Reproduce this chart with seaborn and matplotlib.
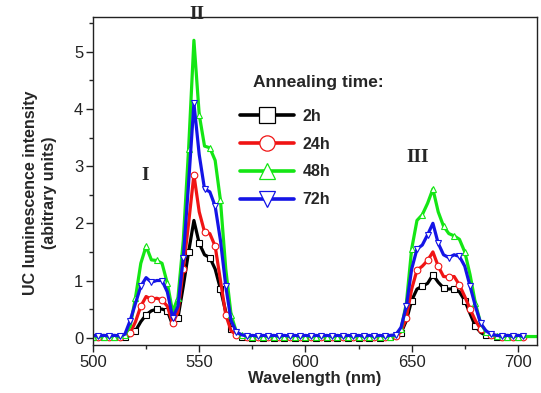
import numpy as np
import pandas as pd
import matplotlib
matplotlib.use("Agg")
import matplotlib.pyplot as plt
import seaborn as sns
from matplotlib.ticker import MultipleLocator
from matplotlib.lines import Line2D

# Wavelength grid (nm), 2.5 nm sampling
wavelength = np.arange(500, 712.5, 2.5)

nan = np.nan

# UC emission spectra for each annealing time (arbitrary units)
spec_2h = [
    0.01, 0.00, 0.01, 0.00, 0.01, 0.00, 0.01, 0.04, 0.12, 0.28,
    0.40, 0.47, 0.50, 0.50, 0.47, 0.22, 0.35, 0.90, 1.50, 2.05,
    1.65, 1.45, 1.40, 1.20, 0.85, 0.45, 0.15, 0.05, 0.02, 0.01,
    0.00, 0.01, 0.00, 0.01, 0.00, 0.01, 0.00, 0.01, 0.00, 0.01,
    0.00, 0.01, 0.00, 0.01, 0.00, 0.01, 0.00, 0.01, 0.00, 0.01,
    0.00, 0.01, 0.00, 0.01, 0.00, 0.01, 0.01, 0.02, 0.08, 0.30,
    0.65, 0.85, 0.90, 0.95, 1.10, 0.97, 0.87, 0.85, 0.86, 0.80,
    0.65, 0.42, 0.20, 0.09, 0.04, 0.02, 0.01, 0.00, 0.01, 0.00,
    0.01, 0.00, nan, nan, nan,
]
spec_24h = [
    0.02, 0.01, 0.02, 0.01, 0.02, 0.01, 0.02, 0.08, 0.28, 0.55,
    0.72, 0.67, 0.69, 0.66, 0.55, 0.25, 0.45, 1.20, 2.00, 2.85,
    2.20, 1.85, 1.82, 1.60, 1.00, 0.40, 0.12, 0.05, 0.03, 0.02,
    0.01, 0.02, 0.01, 0.02, 0.01, 0.02, 0.01, 0.02, 0.01, 0.02,
    0.01, 0.02, 0.01, 0.02, 0.01, 0.02, 0.01, 0.02, 0.01, 0.02,
    0.01, 0.02, 0.01, 0.02, 0.01, 0.02, 0.02, 0.03, 0.10, 0.35,
    0.85, 1.18, 1.25, 1.35, 1.50, 1.25, 1.07, 1.06, 1.07, 0.92,
    0.72, 0.50, 0.30, 0.15, 0.07, 0.04, 0.02, 0.01, 0.02, 0.01,
    0.02, 0.01, nan, nan, nan,
]
spec_48h = [
    0.02, 0.01, 0.02, 0.01, 0.02, 0.01, 0.05, 0.20, 0.70, 1.30,
    1.60, 1.36, 1.35, 1.30, 0.95, 0.45, 0.70, 1.70, 3.30, 5.20,
    3.90, 3.35, 3.32, 3.10, 2.40, 1.20, 0.40, 0.10, 0.04, 0.02,
    0.01, 0.02, 0.01, 0.02, 0.01, 0.02, 0.01, 0.02, 0.01, 0.02,
    0.01, 0.02, 0.01, 0.02, 0.01, 0.02, 0.01, 0.02, 0.01, 0.02,
    0.01, 0.02, 0.01, 0.02, 0.01, 0.02, 0.02, 0.03, 0.15, 0.60,
    1.55, 2.05, 2.15, 2.35, 2.60, 2.20, 1.95, 1.82, 1.78, 1.72,
    1.50, 1.10, 0.60, 0.25, 0.10, 0.05, 0.03, 0.02, 0.02, 0.02,
    0.02, 0.02, 0.02, 0.02, 0.02,
]
spec_72h = [
    0.04, 0.03, 0.04, 0.03, 0.04, 0.03, 0.06, 0.30, 0.60, 0.90,
    1.05, 0.97, 1.00, 1.00, 0.80, 0.35, 0.55, 1.40, 2.70, 4.10,
    3.20, 2.60, 2.55, 2.30, 1.70, 0.90, 0.30, 0.10, 0.05, 0.03,
    0.04, 0.03, 0.04, 0.03, 0.04, 0.03, 0.04, 0.03, 0.04, 0.03,
    0.04, 0.03, 0.04, 0.03, 0.04, 0.03, 0.04, 0.03, 0.04, 0.03,
    0.04, 0.03, 0.04, 0.03, 0.04, 0.03, 0.04, 0.05, 0.18, 0.55,
    1.20, 1.55, 1.62, 1.80, 2.00, 1.65, 1.45, 1.40, 1.45, 1.42,
    1.25, 0.90, 0.55, 0.25, 0.12, 0.06, 0.04, 0.03, 0.04, 0.03,
    0.04, 0.03, nan, nan, nan,
]

labels = ["2h", "24h", "48h", "72h"]
series = [spec_2h, spec_24h, spec_48h, spec_72h]
colors = ["#000000", "#f01414", "#14e614", "#1414e6"]
markers = ["s", "o", "^", "v"]
mark_offsets = [0, 1, 0, 1]

df = pd.concat(
    [pd.DataFrame({"wavelength": wavelength, "intensity": s, "time": lab})
     for lab, s in zip(labels, series)],
    ignore_index=True,
)

sns.set_style("ticks")
plt.rcParams["font.family"] = ["Liberation Sans", "DejaVu Sans"]

fig = plt.figure(figsize=(5.41, 3.93), dpi=100)
ax = fig.add_axes([0.1719, 0.1221, 0.8207, 0.8346])

n_marked = 82  # markers stop at ~702 nm
for lab, col, mk, off in zip(labels, colors, markers, mark_offsets):
    sub = df[df["time"] == lab]
    sns.lineplot(
        data=sub, x="wavelength", y="intensity", ax=ax, color=col,
        linewidth=2.3, marker=mk, markersize=4.8,
        markerfacecolor="white", markeredgecolor=col, markeredgewidth=0.8,
        markevery=list(range(off, n_marked, 2)), legend=False,
        estimator=None, sort=False,
    )

ax.set_xlim(500, 709)
ax.set_ylim(-0.128, 5.607)
ax.xaxis.set_major_locator(MultipleLocator(50))
ax.xaxis.set_minor_locator(MultipleLocator(25))
ax.yaxis.set_major_locator(MultipleLocator(1))
ax.yaxis.set_minor_locator(MultipleLocator(0.5))
ax.tick_params(which="major", direction="out", length=5, width=1,
               labelsize=12, colors="#222222", pad=2)
ax.tick_params(which="minor", direction="out", length=3, width=1)
ax.tick_params(top=False, right=False)
for sp in ax.spines.values():
    sp.set_visible(True)
    sp.set_linewidth(1.0)
    sp.set_color("#222222")

ax.set_xlabel("Wavelength (nm)", fontsize=12, fontweight="bold", labelpad=1)
ax.set_ylabel("UC luminescence intensity\n(abitrary units)", fontsize=11.5,
              fontweight="bold", linespacing=1.35)
ax.yaxis.set_label_coords(-0.081, 0.463)

# Emission band labels
band_font = dict(family=["Liberation Serif", "DejaVu Serif"], fontweight="bold",
                 fontsize=14, ha="center", va="center")
ax.text(0.117, 0.518, "I", transform=ax.transAxes, **band_font)
ax.text(0.234, 1.009, "II", transform=ax.transAxes, **band_font)
ax.text(0.732, 0.573, "III", transform=ax.transAxes, **band_font)

# Legend
ax.text(0.36, 0.799, "Annealing time:", transform=ax.transAxes, fontsize=12.5,
        fontweight="bold", va="center", ha="left")
handles = [
    Line2D([], [], color=col, linewidth=2.6, marker=mk, markersize=11,
           markerfacecolor="white", markeredgecolor=col, markeredgewidth=0.9)
    for col, mk in zip(colors, markers)
]
ax.legend(handles, labels, loc="upper left", bbox_to_anchor=(0.331, 0.72),
          frameon=False, borderpad=0, borderaxespad=0, numpoints=1,
          handlelength=3.4, handletextpad=0.5, labelspacing=0.8,
          prop=dict(weight="bold", size=11.5))

fig.savefig("out.png", dpi=100)
